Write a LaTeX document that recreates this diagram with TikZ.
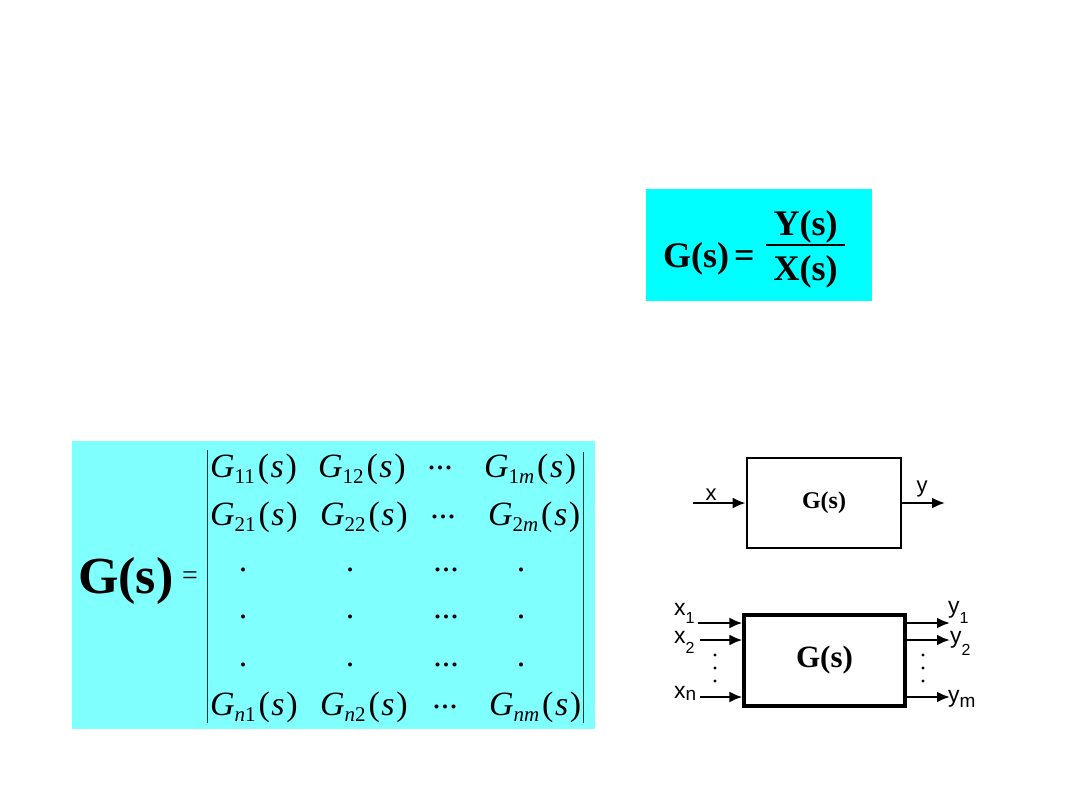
\documentclass[tikz,border=0pt]{standalone}
\usepackage{fontspec}
\setmainfont{Liberation Serif}
\newfontfamily\arialf{Liberation Sans}
\usetikzlibrary{arrows.meta}
\definecolor{topcyan}{HTML}{00FFFF}
\definecolor{matcyan}{HTML}{80FFFF}
\newcommand\Gent[1]{\textit{G}\raisebox{-3pt}{\fontsize{10.5}{11}\selectfont #1}\kern1.5pt(\kern0.8pt\textit{s}\kern0.8pt)}
\begin{document}
\begin{tikzpicture}[x=0.5pt,y=-0.5pt,
  txt/.style={inner sep=0pt, outer sep=0pt},
  bigbf/.style={txt, font=\fontsize{18}{18}\selectfont\bfseries},
  ent/.style={txt, anchor=base west, font=\fontsize{17}{17}\selectfont},
  dotc/.style={txt, anchor=center, font=\fontsize{17}{17}\selectfont},
  lab/.style={txt, anchor=base west, font=\arialf\fontsize{11.5}{12}\selectfont},
  blockbox/.style={draw, line width=1.4pt, inner sep=0pt},
  sig/.style={line width=1.1pt, -{Latex[length=6.5pt,width=5.5pt]}},
  sigb/.style={line width=1.3pt, -{Latex[length=6.5pt,width=5.5pt]}}]
\useasboundingbox (0,0) rectangle (1080,810);
% ---------- top formula box
\node[txt, fill=topcyan, minimum width=113pt, minimum height=56pt, anchor=north west] (tfbox) at (646,189) {};
\node[bigbf, anchor=base west] (tfg) at (663,267) {G(s)};
\node[bigbf, anchor=base west] (tfeq) at (734,267) {=};
\node[bigbf, anchor=base] (tfy) at (805.5,235) {Y(s)};
\node[bigbf, anchor=base] (tfx) at (805.5,280) {X(s)};
\draw[line width=1pt] (766,245) -- (845,245);
% ---------- matrix box
\node[txt, fill=matcyan, minimum width=261.5pt, minimum height=144pt, anchor=north west] (mbox) at (72,441) {};
\node[txt, anchor=base west, font=\fontsize{26}{26}\selectfont\bfseries] (mg) at (78,593) {G(s)};
\node[txt, anchor=base west, font=\fontsize{14}{14}\selectfont] (meq) at (182,584) {=};
\draw[black!80, line width=0.5pt] (207.5,450) -- (207.5,723);
\draw[black!80, line width=0.5pt] (583,452) -- (583,723);
% row 1
\node[ent] (g11) at (210,477) {\Gent{11}};
\node[ent] (g12) at (318,477) {\Gent{12}};
\node[dotc] (c1) at (440,468) {...};
\node[ent] (g1m) at (484,477) {\Gent{1\textit{m}}};
% row 2
\node[ent] (g21) at (210,525) {\Gent{21}};
\node[ent] (g22) at (320,525) {\Gent{22}};
\node[dotc] (c2) at (443,517) {...};
\node[ent] (g2m) at (488,525) {\Gent{2\textit{m}}};
% rows 3-5
\foreach \r/\yy in {3/570,4/617,5/665}{
  \node[dotc] (d\r a) at (243,\yy) {.};
  \node[dotc] (d\r b) at (350,\yy) {.};
  \node[dotc] (d\r c) at (446,\yy) {...};
  \node[dotc] (d\r d) at (521,\yy) {.};
}
% row n
\node[ent] (gn1) at (210,715) {\Gent{\textit{n}1}};
\node[ent] (gn2) at (320,715) {\Gent{\textit{n}2}};
\node[dotc] (cn) at (445,707) {...};
\node[ent] (gnm) at (489,715) {\Gent{\textit{nm}}};
% ---------- SISO block
\node[blockbox, minimum width=77pt, minimum height=45pt, font=\fontsize{12}{12}\selectfont\bfseries] (siso) at (824,503) {G(s)};
\coordinate (sisoin) at (693,503);
\coordinate (sisoout) at (945,503);
\draw[sig] (sisoin) -- (siso.west);
\draw[sig] (siso.east) -- (sisoout);
\node[txt, anchor=base, font=\arialf\fontsize{11}{11}\selectfont] (lx) at (711,500) {x};
\node[txt, anchor=base, font=\arialf\fontsize{11}{11}\selectfont] (ly) at (922,492) {y};
% ---------- MIMO block
\node[blockbox, line width=1.6pt, minimum width=80.5pt, minimum height=45.5pt, font=\fontsize{15.5}{16}\selectfont\bfseries] (mimo) at (824.5,660.5) {G(s)};
\coordinate (i1) at (698,623);
\coordinate (i2) at (700,640);
\coordinate (in) at (700,697);
\coordinate (o1) at (950,623);
\coordinate (o2) at (950,640);
\coordinate (om) at (950,697);
\draw[sigb] (i1) -- (i1 -| mimo.west);
\draw[sigb] (i2) -- (i2 -| mimo.west);
\draw[sigb] (in) -- (in -| mimo.west);
\draw[sigb] (o1 -| mimo.east) -- (o1);
\draw[sigb] (o2 -| mimo.east) -- (o2);
\draw[sigb] (om -| mimo.east) -- (om);
\node[lab] (lx1) at (674,615) {x\raisebox{-4pt}{\fontsize{8}{8}\selectfont 1}};
\node[lab] (lx2) at (674,643) {x\raisebox{-5pt}{\fontsize{8}{8}\selectfont 2}};
\node[lab] (lxn) at (674,698) {x\raisebox{-1pt}{\fontsize{9.5}{10}\selectfont n}};
\node[lab] (ly1) at (948,613) {y\raisebox{-5pt}{\fontsize{8}{8}\selectfont 1}};
\node[lab] (ly2) at (950,643) {y\raisebox{-6pt}{\fontsize{8}{8}\selectfont 2}};
\node[lab] (lym) at (948,702) {y\raisebox{-2.5pt}{\fontsize{9.5}{10}\selectfont m}};
\foreach \yy in {655,668,681}{
  \fill (715,\yy) circle (1.6);
  \fill (923,\yy) circle (1.6);
}
\end{tikzpicture}
\end{document}
